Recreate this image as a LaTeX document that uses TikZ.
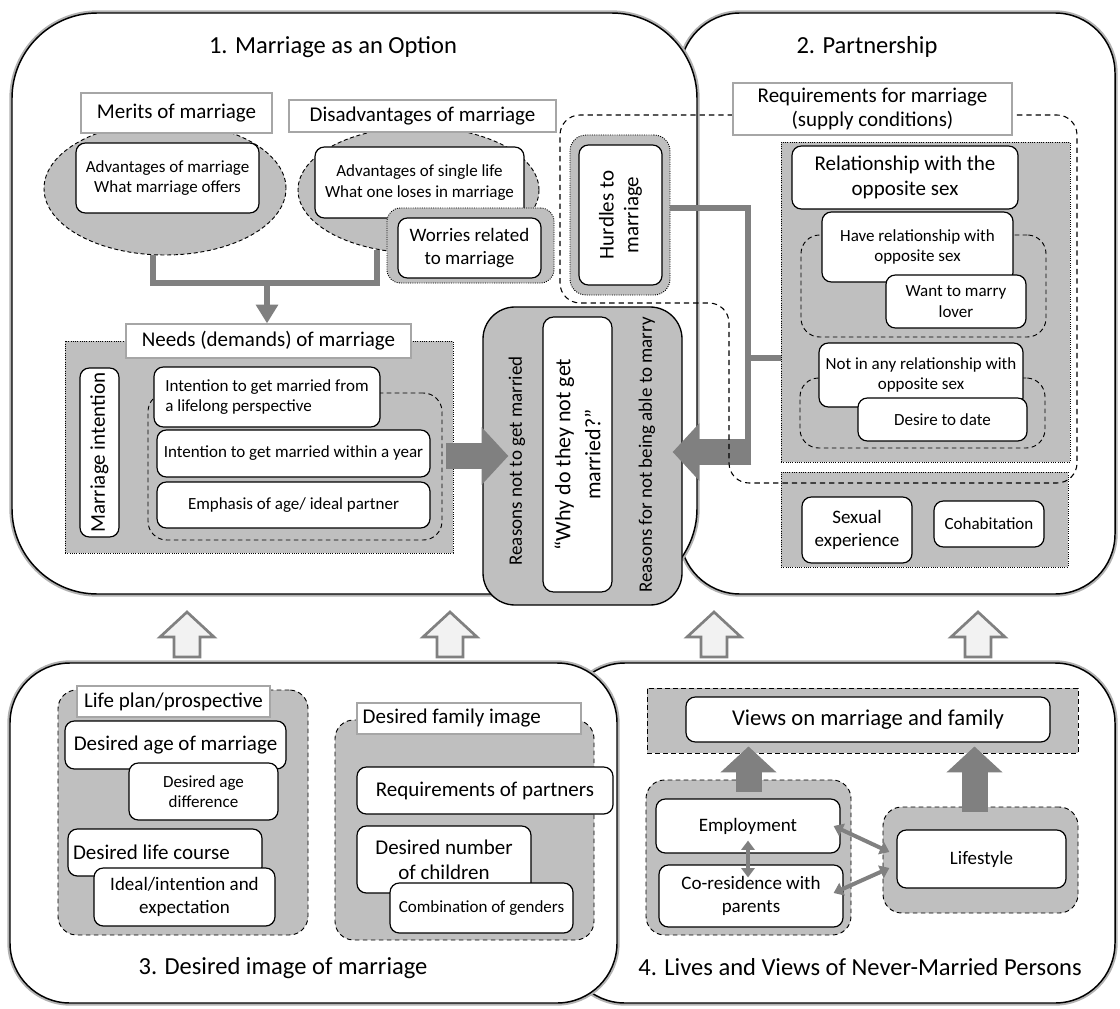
\documentclass[tikz,border=0pt]{standalone}
\usepackage{fontspec}
\setmainfont{Carlito}
\usetikzlibrary{shapes.geometric,arrows.meta,calc}
\definecolor{g1}{HTML}{BFBFBF}
\definecolor{g2}{HTML}{808080}
\definecolor{g3}{HTML}{A6A6A6}
\newcommand\fA{\fontsize{12.75pt}{15.5pt}\selectfont}
\newcommand\fB{\fontsize{14.25pt}{17.5pt}\selectfont}
\newcommand\fC{\fontsize{15.75pt}{18.5pt}\selectfont}
\newcommand\fD{\fontsize{16.5pt}{22.5pt}\selectfont}
\newcommand\fE{\fontsize{17pt}{20pt}\selectfont}
\newcommand\fT{\fontsize{18.4pt}{22pt}\selectfont}
\begin{document}
\begin{tikzpicture}[x=0.75pt,y=-0.75pt,
 bb/.style n args={4}{at={({(#1+#3)/2},{(#2+#4)/2})}, minimum width={(#3-#1)*0.75pt}, minimum height={(#4-#2)*0.75pt}},
 wb/.style={draw=black, line width=0.9pt, fill=white, rounded corners=7pt, inner sep=0pt, align=center},
 lb/.style={draw=g3, line width=0.9pt, fill=white, inner sep=0pt, align=center},
 dotg/.style={draw=black, densely dotted, line width=0.7pt, fill=g1, inner sep=0pt},
 dashg/.style={draw=black, dash pattern=on 3.5pt off 2.5pt, line width=0.7pt, fill=g1, inner sep=0pt, rounded corners=14pt},
 ell/.style={ellipse, draw=black, dash pattern=on 3pt off 2pt, line width=0.7pt, fill=g1, inner sep=0pt},
 conn/.style={draw=g2, line width=4.5pt},
 panel/.style={fill=white, draw=black, line width=1.1pt, preaction={draw=black!30, line width=4pt}},
 txt/.style={inner sep=0pt, align=center},
 bigh/.style={draw=g2, line width=19.5pt, -{Triangle[width=42pt,length=20pt]}},
 bigv/.style={draw=g2, line width=19.5pt, -{Triangle[width=41pt,length=19.5pt]}},
 sm/.style={draw=g2, line width=3pt, {Triangle[width=10pt,length=7pt]}-{Triangle[width=10pt,length=7pt]}},
 uparr/.style={fill=black!5, draw=g2, line width=2pt},
]
\useasboundingbox (0,0) rectangle (1120,1009);

% ---------- Panels 1 and 2 ----------
\draw[panel, rounded corners=45pt] (680,300) -- (680,13) -- (1115,13) -- (1115,594) -- (680,594) -- cycle;
\draw[panel, rounded corners=64pt] (12,300) -- (12,13) -- (697,13) -- (697,594) -- (12,594) -- cycle;

\node[txt, font=\fT] (t1) at (333,47) {1. Marriage as an Option};
\node[txt, font=\fT] (t2) at (867,47) {2. Partnership};

% merits / disadvantages
\node[ell, bb={44}{122}{286}{255}] (ell1) {};
\node[lb, font=\fC, bb={81}{93}{272}{133}] (merl) {Merits of marriage};
\node[wb, font=\fA, bb={76}{143}{259}{213}] (adv) {Advantages of marriage\\What marriage offers};

\node[ell, bb={298}{127}{539}{253}] (ell2) {};
\node[lb, font=\fC, bb={289}{100}{556}{132}] (disl) {Disadvantages of marriage};
\node[wb, font=\fA, bb={315}{147}{524}{218}] (sgl) {Advantages of single life\\What one loses in marriage};
\node[dotg, rounded corners=10pt, bb={387}{208}{554}{283}] (worg) {};
\node[wb, font=\fB, bb={398}{218}{541}{278}] (wor) {Worries related\\to marriage};

% needs
\node[dotg, bb={65}{341}{453}{553}] (needs) {};
\node[dashg, bb={148}{393}{442}{540}] (intd) {};
\node[wb, font=\fA, align=left, bb={154}{367}{380}{427}] (i1) {Intention to get married from\\a lifelong perspective};
\node[wb, font=\fA, bb={157}{430}{430}{477}] (i2) {Intention to get married within a year};
\node[wb, font=\fA, bb={157}{482}{430}{528}] (i3) {Emphasis of age/ ideal partner};
\node[wb, bb={80}{368}{119}{537}] (mi) {};
\node[txt, rotate=90, font=\fC] (mit) at (mi) {Marriage intention};
\node[lb, font=\fC, bb={126}{324}{411}{358}] (needsl) {Needs (demands) of marriage};

\coordinate (jn) at (267,283);
\draw[conn] (ell1.260) |- (jn) -| (ell2.235);
\draw[conn, -{Triangle[width=16pt,length=14pt]}] (jn) -- (jn |- needsl.north);

% hurdles
\node[dotg, rounded corners=12pt, bb={570}{135}{670}{295}] (hurg) {};
\node[wb, bb={579}{145}{662}{285}] (hur) {};
\node[txt, rotate=90, font=\fC] (hurt) at (hur) {Hurdles to\\marriage};

% requirements
\node[dotg, bb={781}{142}{1070}{462}] (reqg) {};
\node[dashg, bb={801}{235}{1046}{337}] (d1) {};
\node[wb, font=\fA, bb={822}{212}{1013}{282}] (have) {Have relationship with\\opposite sex};
\node[wb, font=\fA, bb={886}{275}{1026}{328}] (want) {Want to marry\\lover};
\node[dashg, bb={800}{378}{1045}{448}] (d2) {};
\node[wb, font=\fA, bb={819}{343}{1023}{407}] (notin) {Not in any relationship with\\opposite sex};
\node[wb, font=\fA, bb={858}{398}{1027}{441}] (date) {Desire to date};
\node[wb, font=\fC, bb={792}{146}{1018}{209}] (rel) {Relationship with the\\opposite sex};

\node[dotg, bb={781}{472}{1068}{567}] (sexg) {};
\node[wb, font=\fB, bb={802}{497}{912}{563}] (sex) {Sexual\\experience};
\node[wb, font=\fA, bb={934}{501}{1044}{547}] (cohab) {Cohabitation};

% why box
\node[draw=black, line width=1pt, fill=g1, rounded corners=24pt, inner sep=0pt, bb={483}{307}{682}{605}] (why) {};
\node[wb, rounded corners=8pt, bb={543}{317}{612}{592}] (whyin) {};
\node[txt, rotate=90, font=\fB] (rs1) at (517,461) {Reasons not to get married};
\node[txt, rotate=90, font=\fB] (rs2) at (647,455) {Reasons for not being able to marry};
\node[txt, rotate=90, font=\fD] (whyt) at (whyin) {“Why do they not get\\married?”};

% hurdles connectors
\coordinate (h1) at (748,208);
\coordinate (h3) at (748,358);
\coordinate (h2) at (748,452);
\draw[conn] (hurg.east |- h1) -- (h1) -- (h2);
\draw[conn] (reqg.west |- h3) -- (h3);
\draw[bigh] ([xshift=2.5pt]h2) -- ([xshift=-7.5pt]why.east |- h2);
\draw[bigh] ([xshift=-5.5pt]needs.east |- why.west) -- ([xshift=19.5pt]why.west);

% requirements outline
\draw[dash pattern=on 4pt off 3pt, line width=0.8pt, rounded corners=15pt] (560,200) -- (560,115) -- (1077,115) -- (1077,483) -- (729,483) -- (729,303) -- (560,303) -- cycle;
\node[lb, font=\fC, bb={733}{83}{1012}{135}] (reql) {Requirements for marriage\\(supply conditions)};

% ---------- Panels 4 and 3 ----------
\draw[panel, rounded corners=45pt] (565,800) -- (565,663) -- (1115,663) -- (1115,1003) -- (565,1003) -- cycle;
\draw[panel, rounded corners=45pt] (10,800) -- (10,663) -- (617,663) -- (617,1003) -- (10,1003) -- cycle;

\node[txt, font=\fT] (t3) at (283,968) {3. Desired image of marriage};
\node[txt, font=\fT] (t4) at (860,967) {4. Lives and Views of Never-Married Persons};

% life plan
\node[dashg, bb={58}{690}{308}{935}] (lpd) {};
\node[lb, font=\fC, bb={77}{686}{270}{717}] (lpl) {Life plan/prospective};
\node[wb, font=\fC, bb={65}{721}{286}{769}] (dam) {Desired age of marriage};
\node[wb, font=\fA, bb={129}{763}{278}{820}] (dad) {Desired age\\difference};
\node[wb, bb={68}{829}{262}{876}] (dlc) {};
\node[txt, font=\fC, anchor=west] (dlct) at ([xshift=4pt]dlc.west) {Desired life course};
\node[wb, font=\fB, bb={94}{868}{275}{926}] (ide) {Ideal/intention and\\expectation};

% family image
\node[dashg, bb={335}{720}{594}{940}] (dfd) {};
\node[lb, bb={357}{703}{581}{734}] (dfl) {};
\node[txt, font=\fC, anchor=west] (dflt) at ([xshift=4.5pt]dfl.west) {Desired family image};
\node[wb, font=\fC, bb={357}{767}{613}{814}] (rp) {Requirements of partners};
\node[wb, font=\fC, bb={357}{826}{531}{893}] (dn) {Desired number\\of children};
\node[wb, font=\fA, bb={390}{883}{573}{933}] (cg) {Combination of genders};

% panel 4 contents
\node[draw=black, dash pattern=on 3.5pt off 2.5pt, line width=0.7pt, fill=g1, inner sep=0pt, bb={647}{688}{1078}{753}] (vw) {};
\node[wb, font=\fE, bb={686}{697}{1050}{742}] (vbox) {Views on marriage and family};
\node[dashg, bb={646}{780}{851}{935}] (ldr) {};
\node[wb, font=\fB, bb={656}{799}{840}{853}] (emp) {Employment};
\node[wb, font=\fB, bb={659}{865}{843}{927}] (cor) {Co-residence with\\parents};
\node[dashg, bb={883}{807}{1078}{913}] (rdr) {};
\node[wb, font=\fB, bb={897}{830}{1066}{888}] (life) {Lifestyle};

\draw[bigv] ([yshift=-9pt]ldr.north) -- ([yshift=5.25pt]vw.south -| ldr.north);
\draw[bigv] ([yshift=-3.75pt,xshift=-4.5pt]rdr.north) -- ([yshift=5.25pt,xshift=-4.5pt]vw.south -| rdr.north);
\draw[sm] ([yshift=9.75pt]emp.south) -- ([yshift=-9.75pt]cor.north -| emp.south);
\draw[sm] ([xshift=-5.25pt]emp.east) -- ([xshift=-5.25pt,yshift=5.25pt]life.west);
\draw[sm] ([xshift=-7.5pt,yshift=2.25pt]cor.east) -- ([xshift=-5.25pt,yshift=-6.75pt]life.west);

% outline up arrows between rows
\foreach \ax in {187,450,714,978} {
  \draw[uparr] ({\ax-13},657) -- ({\ax-13},637) -- ({\ax-27},637) -- (\ax,612) -- ({\ax+27},637) -- ({\ax+13},637) -- ({\ax+13},657) -- cycle;
}
\end{tikzpicture}
\end{document}
